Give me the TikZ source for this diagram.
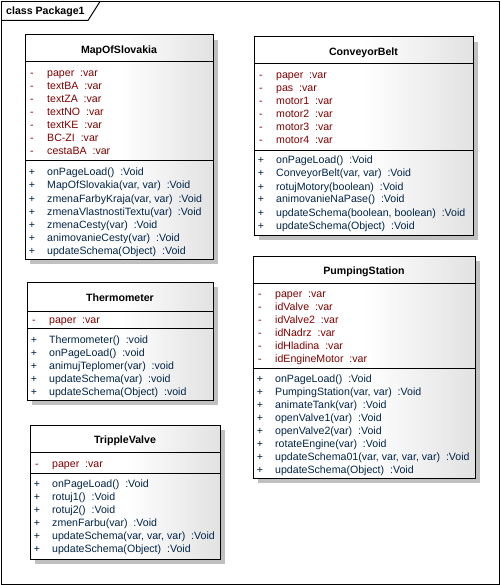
\documentclass[tikz,border=0pt]{standalone}
\usepackage{fontspec}
\setmainfont{Liberation Sans}
\definecolor{attrcol}{RGB}{128,0,0}
\definecolor{methcol}{RGB}{0,36,72}
\definecolor{shadowcol}{RGB}{192,192,192}
\definecolor{gradend}{RGB}{226,226,226}
\newcommand\umlbox[8]{% #1 id, #2 left, #3 top, #4 right, #5 headsep, #6 attrsep, #7 bottom, #8 title
  \fill[shadowcol] ({#2+5},{#3+5}) rectangle ({#4+5},{#7+5});
  \shade[left color=white,right color=gradend,middle color=white] (#2,#3) rectangle (#4,#7);
  \draw[boxline] (#2,#3) rectangle (#4,#7);
  \draw[boxline] (#2,#5) -- (#4,#5);
  \draw[boxline] (#2,#6) -- (#4,#6);
  \node[titletext] (#1-title) at ({(#2+#4)/2},{(#3+#5)/2+5}) {#8};
}
\newcommand\umlattrs[4]{% #1 id, #2 left, #3 first y, #4 list
  \foreach \t [count=\i] in {#4} {
    \node[attrtext,anchor=base] (#1-am\i) at ({#2+7},{#3+4+13*(\i-1)}) {-};
    \node[attrtext] (#1-a\i) at ({#2+22},{#3+4+13*(\i-1)}) {\t};
  }
}
\newcommand\umlmeths[4]{%
  \foreach \t [count=\i] in {#4} {
    \node[methtext,anchor=base] (#1-mm\i) at ({#2+7},{#3+4+13*(\i-1)}) {+};
    \node[methtext] (#1-m\i) at ({#2+22},{#3+4+13*(\i-1)}) {\t};
  }
}
\begin{document}
\begin{tikzpicture}[x=1pt,y=-1pt,
  boxline/.style={line width=1pt,black},
  titletext/.style={font=\fontsize{10.6}{12}\selectfont\bfseries,inner sep=0pt,anchor=base},
  attrtext/.style={font=\fontsize{10.6}{12}\selectfont,text=attrcol,anchor=base west,inner sep=0pt},
  methtext/.style={font=\fontsize{10.6}{12}\selectfont,text=methcol,anchor=base west,inner sep=0pt}]
\useasboundingbox (0,0) rectangle (500,585);
\fill[white] (0,0) rectangle (500,585);
% frame
\draw[line width=1pt] (1.5,1.5) rectangle (499,584);
\draw[line width=1pt] (1.5,20.5) -- (88,20.5) -- (100,1.5);
\node[font=\fontsize{10.6}{12}\selectfont\bfseries,anchor=base west,inner sep=0pt] (frametitle) at (6,15) {class Package1};

% MapOfSlovakia
\umlbox{map}{25}{35}{213}{62}{161}{259}{MapOfSlovakia}
\umlattrs{map}{25}{73}{paper~~:var,textBA~~:var,textZA~~:var,textNO~~:var,textKE~~:var,BC-ZI~~:var,cestaBA~~:var}
\umlmeths{map}{25}{172}{onPageLoad()~~:Void,{MapOfSlovakia(var, var)~~:Void},{zmenaFarbyKraja(var, var)~~:Void},zmenaVlastnostiTextu(var)~~:Void,zmenaCesty(var)~~:Void,animovanieCesty(var)~~:Void,updateSchema(Object)~~:Void}

% ConveyorBelt
\umlbox{cb}{254}{37}{473}{64}{151}{235}{ConveyorBelt}
\umlattrs{cb}{254}{75}{paper~~:var,pas~~:var,motor1~~:var,motor2~~:var,motor3~~:var,motor4~~:var}
\umlmeths{cb}{254}{160}{onPageLoad()~~:Void,{ConveyorBelt(var, var)~~:Void},rotujMotory(boolean)~~:Void,animovanieNaPase()~~:Void,{updateSchema(boolean, boolean)~~:Void},updateSchema(Object)~~:Void}

% Thermometer
\umlbox{th}{27}{282}{213}{311}{328}{400}{Thermometer}
\umlattrs{th}{27}{319}{paper~~:var}
\umlmeths{th}{27}{339}{Thermometer()~~:void,onPageLoad()~~:void,animujTeplomer(var)~~:void,updateSchema(var)~~:void,updateSchema(Object)~~:void}

% PumpingStation
\umlbox{ps}{253}{256}{475}{283}{368}{478}{PumpingStation}
\umlattrs{ps}{253}{293}{paper~~:var,idValve~~:var,idValve2~~:var,idNadrz~~:var,idHladina~~:var,idEngineMotor~~:var}
\umlmeths{ps}{253}{378}{onPageLoad()~~:Void,{PumpingStation(var, var)~~:Void},animateTank(var)~~:Void,openValve1(var)~~:Void,openValve2(var)~~:Void,rotateEngine(var)~~:Void,{updateSchema01(var, var, var, var)~~:Void},updateSchema(Object)~~:Void}

% TrippleValve
\umlbox{tv}{30}{425}{220}{452}{473}{559}{TrippleValve}
\umlattrs{tv}{30}{463}{paper~~:var}
\umlmeths{tv}{30}{483}{onPageLoad()~~:Void,rotuj1()~~:Void,rotuj2()~~:Void,zmenFarbu(var)~~:Void,{updateSchema(var, var, var)~~:Void},updateSchema(Object)~~:Void}
\end{tikzpicture}
\end{document}
